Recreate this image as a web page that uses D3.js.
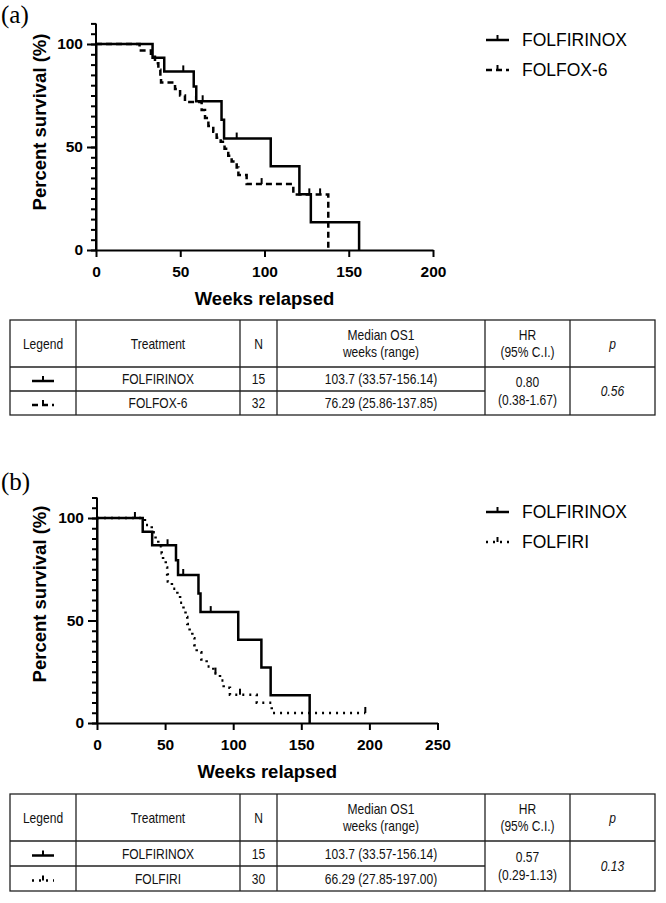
<!DOCTYPE html>
<html><head><meta charset="utf-8">
<script src="https://cdn.jsdelivr.net/npm/d3@7/dist/d3.min.js"></script>
<style>
body{margin:0;background:#fff}
svg{display:block}
</style>
</head><body>
<svg id="c" width="666" height="903"></svg>
<script>
// ---------------- DATA ----------------
// FOLFIRINOX (same cohort in both panels)
const folfirinoxTimes    = [33.57, 40.5, 58.0, 59.5, 74.5, 76.0, 103.7, 120.7, 127.5, 156.14];
const folfirinoxSurvival = [93.3, 86.7, 79.4, 72.2, 63.2, 54.1, 40.6, 27.1, 13.5, 0];
const folfirinoxCensored = [51.8, 63.3, 83.5];

// FOLFOX-6 (panel a)
const folfoxTimes    = [25.86, 32.6, 35.0, 37.0, 38.2, 38.6, 46.9, 49.9, 52.8, 62.7, 64.7, 66.7, 69.6, 71.6, 74.0, 76.29, 78.5, 80.5, 83.5, 84.5, 89.4, 117.1, 137.85];
const folfoxSurvival = [96.9, 93.8, 90.6, 87.5, 84.4, 81.3, 78.1, 75.0, 71.9, 68.0, 64.1, 60.2, 57.4, 54.5, 52.5, 49.2, 45.8, 43.0, 40.0, 36.4, 32.0, 27.0, 0];
const folfoxCensored = [59.3, 98.3, 126.6, 133.0];

// FOLFIRI (panel b)
const folfiriTimes    = [35.2, 40.2, 43.0, 45.0, 47.5, 48.5, 50.5, 51.5, 52.0, 55.0, 59.0, 61.0, 63.5, 65.0, 66.29, 68.0, 70.0, 71.5, 73.2, 76.6, 80.5, 85.4, 90.3, 93.0, 97.6, 117.3, 128.3];
const folfiriSurvival = [96.6, 93.1, 89.7, 86.2, 82.8, 79.3, 75.9, 72.4, 69.0, 65.5, 62.1, 58.6, 55.2, 51.7, 48.3, 44.8, 41.4, 37.9, 34.5, 31.0, 27.6, 24.1, 20.7, 17.2, 13.8, 9.9, 4.9];
const folfiriCensored = [27.85, 87.0, 105.0, 197.0];

// axes
const xTicksA = [0, 50, 100, 150, 200];
const xTicksB = [0, 50, 100, 150, 200, 250];
const yTicks  = [0, 50, 100];

// tables
const tableHeaders = [["Legend"], ["Treatment"], ["N"], ["Median OS1", "weeks (range)"], ["HR", "(95% C.I.)"], ["p"]];
const treatmentsA = ["FOLFIRINOX", "FOLFOX-6"];
const nA = ["15", "32"];
const medianA = ["103.7 (33.57-156.14)", "76.29 (25.86-137.85)"];
const hrA = ["0.80", "(0.38-1.67)"];
const pA = "0.56";
const treatmentsB = ["FOLFIRINOX", "FOLFIRI"];
const nB = ["15", "30"];
const medianB = ["103.7 (33.57-156.14)", "66.29 (27.85-197.00)"];
const hrB = ["0.57", "(0.29-1.13)"];
const pB = "0.13";

// ---------------- STYLES ----------------
const styles = {
  solid:  {dash: null,  width: 2.5},
  dashed: {dash: "6,4", width: 2.5},
  dotted: {dash: "2,5", width: 2.5}
};
const SANS = "'Liberation Sans', Arial, Helvetica, sans-serif";
const SERIF = "'Liberation Serif', 'Times New Roman', serif";

const svg = d3.select("#c");

function stepValue(times, surv, t) {
  let v = 100;
  for (let i = 0; i < times.length; i++) if (times[i] <= t) v = surv[i];
  return v;
}

function drawPanel(cfg) {
  const g = svg.append("g");
  const x = d3.scaleLinear().domain([0, cfg.xMax]).range([cfg.x0, cfg.x1]);
  const y = d3.scaleLinear().domain([0, 100]).range([cfg.yZero, cfg.yHundred]);

  g.append("text").attr("x", 1).attr("y", cfg.letterY)
    .attr("font-family", SERIF).attr("font-size", 25).text(cfg.letter);

  g.append("g").attr("transform", `translate(${cfg.x0},0)`)
    .call(d3.axisLeft(y).tickValues(d3.range(0, 111, 5)).tickSize(5).tickSizeOuter(0).tickFormat(""))
    .call(a => a.selectAll("line,path").attr("stroke", "#000").attr("stroke-width", 2));
  const ya = g.append("g").attr("transform", `translate(${cfg.x0},0)`)
    .call(d3.axisLeft(y).tickValues(yTicks).tickSize(9).tickPadding(4).tickSizeOuter(0));
  ya.select(".domain").remove();
  ya.selectAll("line").attr("stroke", "#000").attr("stroke-width", 2);
  ya.selectAll("text").attr("font-family", SANS).attr("font-weight", "bold")
    .attr("font-size", 15.5).attr("fill", "#000");
  g.append("line").attr("x1", cfg.x0).attr("x2", cfg.x0)
    .attr("y1", y(110)).attr("y2", y(0)).attr("stroke", "#000").attr("stroke-width", 2);

  const xa = g.append("g").attr("transform", `translate(0,${cfg.yZero})`)
    .call(d3.axisBottom(x).tickValues(cfg.xTicks).tickSize(7).tickPadding(9).tickSizeOuter(0));
  xa.selectAll("line,path").attr("stroke", "#000").attr("stroke-width", 2);
  xa.selectAll("text").attr("font-family", SANS).attr("font-weight", "bold")
    .attr("font-size", 15.5).attr("fill", "#000");

  g.append("text").attr("x", (cfg.x0 + cfg.x1) / 2).attr("y", cfg.yZero + 55)
    .attr("text-anchor", "middle").attr("font-family", SANS).attr("font-weight", "bold")
    .attr("font-size", 18.5).text("Weeks relapsed");
  g.append("text").attr("transform", `translate(46,${cfg.yTitleC}) rotate(-90)`)
    .attr("text-anchor", "middle").attr("font-family", SANS).attr("font-weight", "bold")
    .attr("font-size", 18.5).text("Percent survival (%)");

  const line = d3.line().x(d => x(d[0])).y(d => y(d[1])).curve(d3.curveStepAfter);
  cfg.series.forEach(s => {
    const pts = [[0, 100]];
    s.times.forEach((t, i) => pts.push([t, s.surv[i]]));
    const last = s.surv[s.surv.length - 1];
    const tEnd = Math.max(s.times[s.times.length - 1], ...s.censored);
    if (last > 0 && tEnd > s.times[s.times.length - 1]) pts.push([tEnd, last]);
    const st = styles[s.style];
    g.append("path").attr("d", line(pts)).attr("fill", "none").attr("stroke", "#000")
      .attr("stroke-width", st.width).attr("stroke-dasharray", st.dash)
      .attr("stroke-linejoin", "miter");
    s.censored.forEach(t => {
      const v = stepValue(s.times, s.surv, t);
      g.append("line").attr("x1", x(t)).attr("x2", x(t))
        .attr("y1", y(v)).attr("y2", y(v) - 6)
        .attr("stroke", "#000").attr("stroke-width", 2);
    });
  });

  cfg.series.forEach((s, i) => {
    const ly = cfg.legendY + i * 30;
    drawSymbol(g, 486, 509, ly, s.style);
    g.append("text").attr("x", 522).attr("y", ly).attr("dy", "0.36em")
      .attr("font-family", SANS).attr("font-size", 17.5).text(s.name);
  });
}

function drawSymbol(g, xa, xb, yy, style) {
  const st = styles[style];
  g.append("line").attr("x1", xa).attr("x2", xb).attr("y1", yy).attr("y2", yy)
    .attr("stroke", "#000").attr("stroke-width", st.width).attr("stroke-dasharray", st.dash);
  const xm = (xa + xb) / 2;
  g.append("line").attr("x1", xm).attr("x2", xm).attr("y1", yy).attr("y2", yy - 5)
    .attr("stroke", "#000").attr("stroke-width", 2);
}

function drawTable(cfg) {
  const g = svg.append("g");
  const cols = cfg.cols, top = cfg.top, hb = cfg.headerBottom, rd = cfg.rowDiv, bot = cfg.bottom;
  const stroke = "#222", sw = 1.3;
  g.append("rect").attr("x", cols[0]).attr("y", top).attr("width", cols[6] - cols[0])
    .attr("height", bot - top).attr("fill", "none").attr("stroke", stroke).attr("stroke-width", sw);
  cols.slice(1, 6).forEach(cx => g.append("line").attr("x1", cx).attr("x2", cx)
    .attr("y1", top).attr("y2", bot).attr("stroke", stroke).attr("stroke-width", sw));
  g.append("line").attr("x1", cols[0]).attr("x2", cols[6]).attr("y1", hb).attr("y2", hb)
    .attr("stroke", stroke).attr("stroke-width", sw);
  g.append("line").attr("x1", cols[0]).attr("x2", cols[4]).attr("y1", rd).attr("y2", rd)
    .attr("stroke", stroke).attr("stroke-width", sw);

  const cxm = i => (cols[i] + cols[i + 1]) / 2;
  const txt = (xx, yy, s, italic) => g.append("text")
    .attr("transform", `translate(${xx},${yy}) scale(0.86,1)`)
    .attr("dy", "0.36em").attr("text-anchor", "middle").attr("font-family", SANS)
    .attr("font-size", 14).attr("fill", "#111").attr("font-style", italic ? "italic" : null).text(s);

  const hc = (top + hb) / 2;
  tableHeaders.forEach((h, i) => {
    if (h.length === 1) txt(cxm(i), hc, h[0], i === 5);
    else { txt(cxm(i), hc - 8.5, h[0]); txt(cxm(i), hc + 8.5, h[1]); }
  });
  const r1 = (hb + rd) / 2, r2 = (rd + bot) / 2;
  [r1, r2].forEach((ry, k) => {
    drawSymbol(g, cxm(0) - 11, cxm(0) + 11, ry + 2, cfg.styles[k]);
    txt(cxm(1), ry, cfg.treatments[k]);
    txt(cxm(2), ry, cfg.n[k]);
    txt(cxm(3), ry, cfg.median[k]);
  });
  const mc = (hb + bot) / 2;
  txt(cxm(4), mc - 9, cfg.hr[0]);
  txt(cxm(4), mc + 9, cfg.hr[1]);
  txt(cxm(5), mc, cfg.p, true);
}

const tableCols = [10, 76, 240, 277, 485, 570, 655];

drawPanel({
  letter: "(a)", letterY: 23, xMax: 200, xTicks: xTicksA,
  x0: 96, x1: 433, yZero: 250, yHundred: 44, yTitleC: 122, legendY: 40,
  series: [
    {name: "FOLFIRINOX", style: "solid", times: folfirinoxTimes, surv: folfirinoxSurvival, censored: folfirinoxCensored},
    {name: "FOLFOX-6", style: "dashed", times: folfoxTimes, surv: folfoxSurvival, censored: folfoxCensored}
  ]
});
drawTable({cols: tableCols, top: 320, headerBottom: 367, rowDiv: 391, bottom: 415,
  styles: ["solid", "dashed"], treatments: treatmentsA, n: nA, median: medianA, hr: hrA, p: pA});

drawPanel({
  letter: "(b)", letterY: 490, xMax: 250, xTicks: xTicksB,
  x0: 97, x1: 437.5, yZero: 723, yHundred: 518, yTitleC: 594, legendY: 512,
  series: [
    {name: "FOLFIRINOX", style: "solid", times: folfirinoxTimes, surv: folfirinoxSurvival, censored: folfirinoxCensored},
    {name: "FOLFIRI", style: "dotted", times: folfiriTimes, surv: folfiriSurvival, censored: folfiriCensored}
  ]
});
drawTable({cols: tableCols, top: 794, headerBottom: 841, rowDiv: 866, bottom: 891,
  styles: ["solid", "dotted"], treatments: treatmentsB, n: nB, median: medianB, hr: hrB, p: pB});
</script>
</body></html>
